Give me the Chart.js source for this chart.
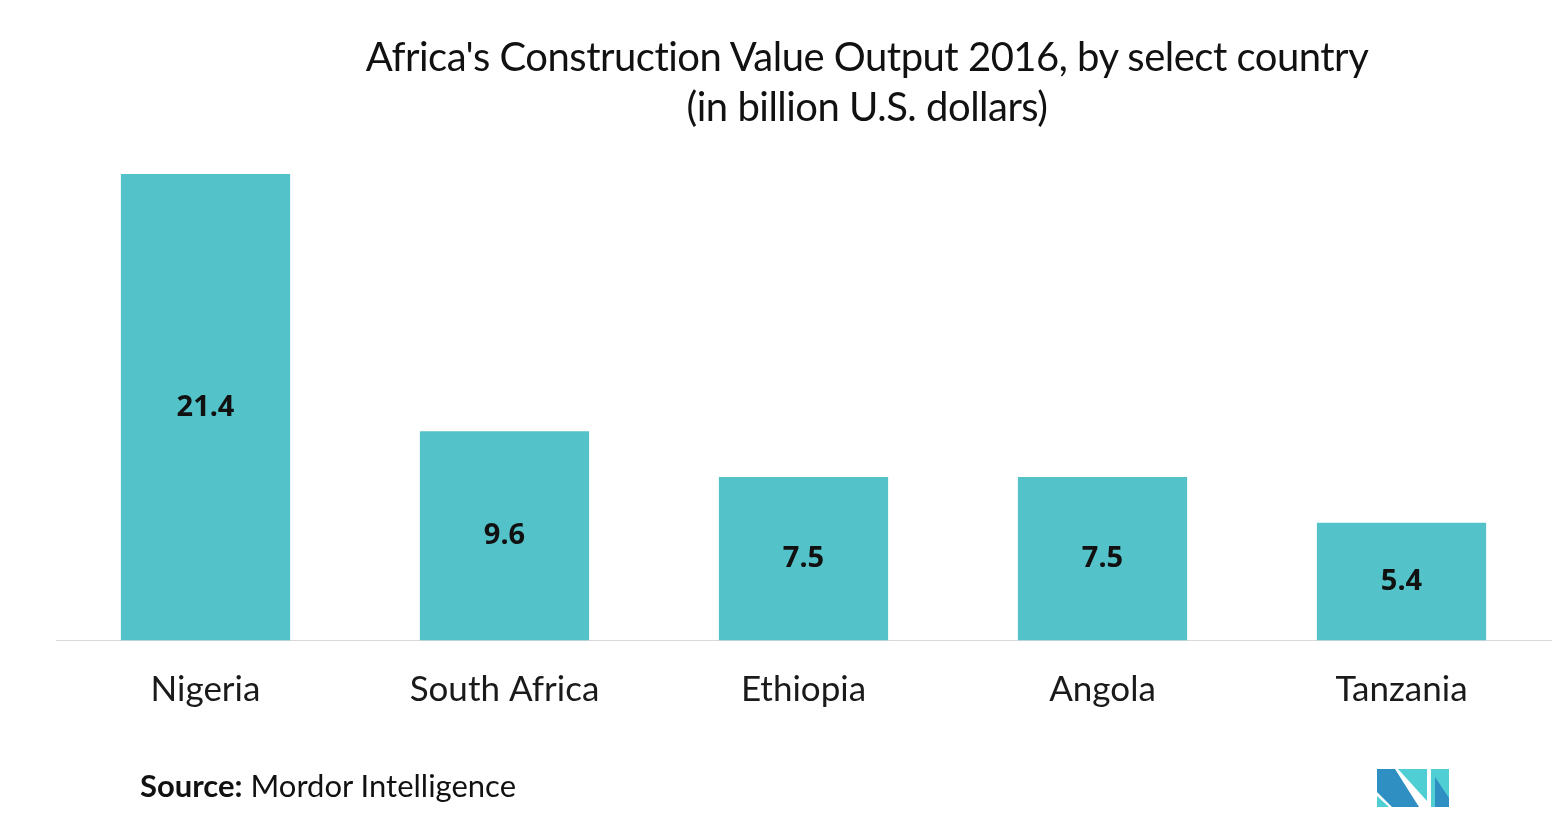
<!DOCTYPE html>
<html>
<head>
<meta charset="utf-8">
<title>Africa's Construction Value Output 2016</title>
<script src="https://cdn.jsdelivr.net/npm/chart.js@4/dist/chart.umd.min.js"></script>
<style>
  body { margin: 0; background: #fff; font-family: Lato, sans-serif; }
  #wrap { position: relative; width: 1552px; height: 825px; }
  #chart { position: absolute; left: 0; top: 0; }
  .title { position: absolute; left: 317px; width: 1100px; text-align: center; font-size: 40px; color: #111; line-height: 50px; top: 31px; letter-spacing: -0.5px; }
  .source { position: absolute; left: 140px; top: 766px; font-size: 31px; color: #111; }
  .logo { position: absolute; left: 1377px; top: 769px; }
</style>
</head>
<body>
<div id="wrap">
  <canvas id="chart" width="1552" height="825"></canvas>
  <div class="title">Africa's Construction Value Output 2016, by select country<br>(in billion U.S. dollars)</div>
  <div class="source"><b>Source:</b> Mordor Intelligence</div>
  <svg class="logo" width="73" height="40" viewBox="0 0 73 40">
    <polygon points="0,27 0,38 12,38" fill="#4fcfd3"/>
    <polygon points="0,0 18,0 42,38 15,38 0,23" fill="#2f8fc2"/>
    <polygon points="21,0 50,0 50,32" fill="#4fcfd3"/>
    <rect x="54" y="0" width="18" height="38" fill="#4fcfd3"/>
    <polygon points="58,8 72,29 72,38 58,38" fill="#2f8fc2"/>
  </svg>
</div>
<script>
const countries = ['Nigeria', 'South Africa', 'Ethiopia', 'Angola', 'Tanzania'];
const outputValues = [21.4, 9.6, 7.5, 7.5, 5.4];

// draw the value in the middle of each bar
const barLabels = {
    id: 'barLabels',
    afterDatasetsDraw(chart) {
        const ctx = chart.ctx;
        const meta = chart.getDatasetMeta(0);
        ctx.save();
        ctx.font = 'bold 29px "Noto Sans", sans-serif';
        ctx.fillStyle = '#111';
        ctx.textAlign = 'center';
        ctx.textBaseline = 'middle';
        meta.data.forEach(function(bar, i) {
            const mid = (bar.y + bar.base) / 2;
            ctx.fillText(outputValues[i].toFixed(1), bar.x, mid);
        });
        ctx.restore();
    }
};

const ctx = document.getElementById('chart').getContext('2d');
new Chart(ctx, {
    type: 'bar',
    data: {
        labels: countries,
        datasets: [{
            data: outputValues,
            backgroundColor: '#53c3c9',
            barPercentage: 0.566,
            categoryPercentage: 1
        }]
    },
    options: {
        responsive: false,
        animation: false,
        layout: { padding: { left: 56, right: 1, top: 174, bottom: 86.5 } },
        plugins: {
            legend: { display: false },
            tooltip: { enabled: false }
        },
        scales: {
            x: {
                grid: { display: false, drawTicks: false },
                border: { display: true, color: '#d9d9d9', width: 1 },
                ticks: {
                    padding: 28,
                    color: '#1a1a1a',
                    font: { family: 'Lato', size: 35 }
                }
            },
            y: {
                display: false,
                min: 0,
                max: 21.4
            }
        }
    },
    plugins: [barLabels]
});
</script>
</body>
</html>
